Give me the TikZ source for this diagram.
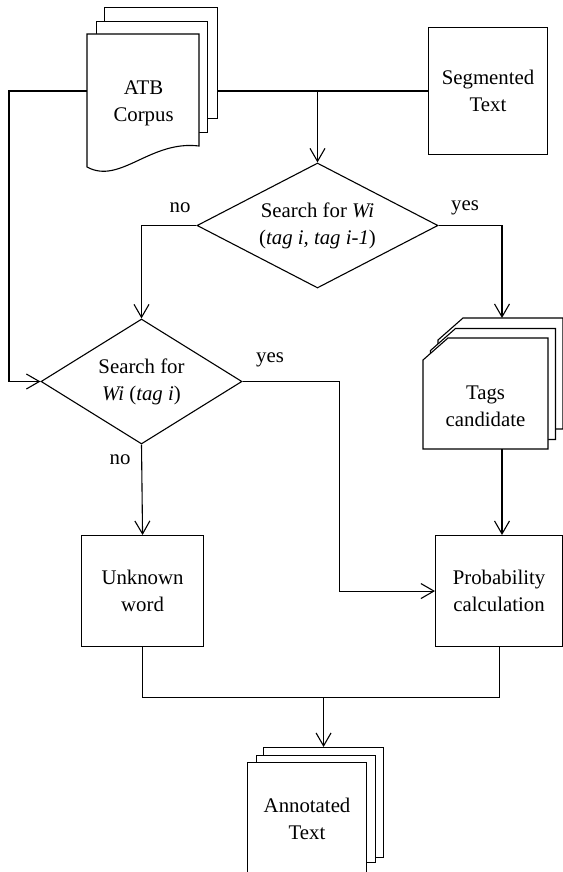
\documentclass[tikz,border=0pt]{standalone}
\usepackage{fontspec}
\setmainfont{Liberation Serif}
\usetikzlibrary{shapes.geometric,arrows.meta,calc}
\begin{document}
\begin{tikzpicture}[x=1pt,y=-1pt,line width=1.1pt,
  every node/.style={font=\fontsize{20.8}{27}\selectfont},
  box/.style={draw,rectangle,inner sep=0pt,align=center,anchor=north west},
  sheet/.style={draw,fill=white,rectangle,inner sep=0pt,anchor=north west},
  dec/.style={draw,diamond,inner sep=0pt,align=center},
  arr/.style={-{Straight Barb[length=13pt,width=15pt]}},
  lbl/.style={inner sep=0pt}]
\useasboundingbox (0,0) rectangle (562,872);

% ATB Corpus (document stack)
\node[sheet,minimum width=113pt,minimum height=111pt] (atb3) at (104,7) {};
\node[sheet,minimum width=111pt,minimum height=111pt] (atb2) at (96,21) {};
\draw[fill=white] (87,34) -- (199,34) -- (199,146)
  .. controls (150,140) and (120,185) .. (87,167) -- cycle;
\node[inner sep=0pt,align=center,anchor=north west,minimum width=112pt,minimum height=137pt] (atb) at (87,34) {ATB\\Corpus};

% Segmented text
\node[box,minimum width=119pt,minimum height=127pt] (seg) at (428,27) {Segmented\\Text};

% Decisions
\node[dec,shape aspect=1.93,minimum width=241pt,minimum height=125pt] (d1) at (317.5,225.5)
  {Search for \textit{Wi}\\(\textit{tag i, tag i-1})};
\node[dec,shape aspect=1.6,minimum width=201pt,minimum height=125pt] (d2) at (141.5,381.5)
  {Search for\\\textit{Wi} (\textit{tag i})};

% Tags candidate (stack with cut corner)
\draw[fill=white] (438,340) -- (463,318) -- (563,318) -- (563,429) -- (438,429) -- cycle;
\draw[fill=white] (430.5,350.5) -- (455.5,328.5) -- (555.5,328.5) -- (555.5,439.5) -- (430.5,439.5) -- cycle;
\draw[fill=white] (423,360) -- (448,338) -- (548,338) -- (548,449) -- (423,449) -- cycle;
\node[inner sep=0pt,align=center] (tags) at (485.5,406.5) {Tags\\candidate};
\coordinate (tagin) at (502,318);
\coordinate (tagout) at (502,449);

% Process boxes
\node[box,minimum width=122pt,minimum height=111pt] (unk) at (81,535) {Unknown\\word};
\node[box,minimum width=127pt,minimum height=111pt] (prob) at (435,535) {Probability\\calculation};

% Annotated text (stack)
\node[sheet,minimum width=120pt,minimum height=110pt] (ann3) at (263,747) {};
\node[sheet,minimum width=119pt,minimum height=107pt] (ann2) at (256,755) {};
\node[sheet,align=center,minimum width=119pt,minimum height=112pt] (ann) at (247,762) {Annotated\\Text};

% Connectors
\draw (atb3.east |- seg.west) -- (seg.west);
\draw[arr] (d1.north |- seg.west) -- (d1.north);
\draw[arr] (atb.west |- seg.west) -- ++(-78,0) |- (d2.west);
\draw[arr] (d1.west) -| (d2.north);
\draw[arr] (d1.east) -| (tagin);
\draw[arr] (d2.east) -- ++(97,0) |- (prob.west);
\draw[arr] (d2.south) -- (unk.north);
\draw[arr] (tagout) -- (tagout |- prob.north);
\draw (unk.south) -- ++(0,50) coordinate (jy) -| (prob.south);
\draw[arr] (ann3.north |- jy) -- (ann3.north);

% Labels
\node[lbl] (no1) at (180,208) {no};
\node[lbl] (yes1) at (465,208) {yes};
\node[lbl] (yes2) at (270,360) {yes};
\node[lbl] (no2) at (120,460) {no};
\end{tikzpicture}
\end{document}
